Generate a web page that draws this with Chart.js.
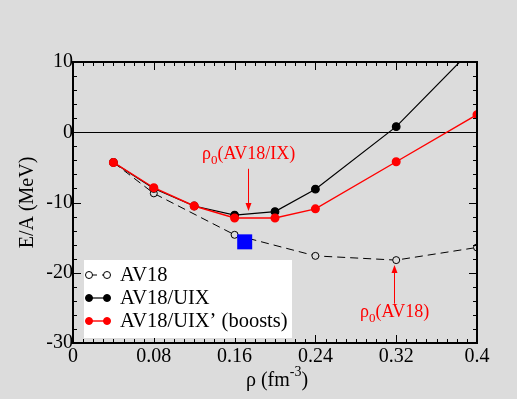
<!DOCTYPE html>
<html>
<head>
<meta charset="utf-8">
<script src="https://cdn.jsdelivr.net/npm/chart.js@4.4.1/dist/chart.umd.min.js"></script>
<style>
body { margin: 0; background: #dcdcdc; }
canvas { display: block; }
</style>
</head>
<body>
<canvas id="eosChart" width="517" height="399"></canvas>
<script>
// density (fm^-3) and energy per nucleon (MeV) for each calculation
var rhoAV18 = [0.04, 0.08, 0.16, 0.24, 0.32, 0.4];
var eAV18 = [-4.3, -8.7, -14.6, -17.6, -18.2, -16.4];
var rhoUIX = [0.04, 0.08, 0.12, 0.16, 0.2, 0.24, 0.32, 0.4];
var eUIX = [-4.3, -8.0, -10.5, -11.8, -11.3, -8.1, 0.8, 12.5];
var rhoBoost = [0.04, 0.08, 0.12, 0.16, 0.2, 0.24, 0.32, 0.4];
var eBoost = [-4.3, -7.9, -10.5, -12.2, -12.2, -10.9, -4.2, 2.5];
// empirical saturation point
var satRho = [0.17];
var satE = [-15.6];
var xTicks = [0, 0.08, 0.16, 0.24, 0.32, 0.4];
var yTicks = [-30, -20, -10, 0, 10];

var serif = "'Liberation Serif', 'DejaVu Serif', serif";
var bg = '#dcdcdc';

function toPoints(xs, ys) {
    return xs.map(function(x, i) { return {x: x, y: ys[i]}; });
}

// draws "ρ0(...)" with a subscript zero
function drawRho(ctx, text, x, y, size) {
    ctx.textAlign = 'left';
    ctx.textBaseline = 'alphabetic';
    ctx.font = size + 'px ' + serif;
    ctx.fillText('ρ', x, y);
    x += ctx.measureText('ρ').width;
    ctx.font = Math.round(size * 0.7) + 'px ' + serif;
    ctx.fillText('0', x, y + 5);
    x += ctx.measureText('0').width;
    ctx.font = size + 'px ' + serif;
    ctx.fillText(text, x, y);
}

function arrow(ctx, x, y1, y2) {
    var dir = y2 > y1 ? 1 : -1;
    ctx.beginPath();
    ctx.moveTo(x, y1);
    ctx.lineTo(x, y2 - dir * 6);
    ctx.stroke();
    ctx.beginPath();
    ctx.moveTo(x, y2);
    ctx.lineTo(x - 3, y2 - dir * 8);
    ctx.lineTo(x + 3, y2 - dir * 8);
    ctx.closePath();
    ctx.fill();
}

// frame and inward ticks, drawn with filled rectangles
function drawFrame(chart) {
    var ctx = chart.ctx, a = chart.chartArea;
    var xs = chart.scales.x, ys = chart.scales.y;
    var L = Math.round(a.left), R = Math.round(a.right);
    var T = Math.round(a.top), B = Math.round(a.bottom);
    ctx.save();
    ctx.fillStyle = '#000000';
    ctx.fillRect(L - 1, T - 1, R - L + 2, 2);
    ctx.fillRect(L - 1, B - 1, R - L + 2, 2);
    ctx.fillRect(L - 1, T - 1, 2, B - T + 2);
    ctx.fillRect(R - 1, T - 1, 2, B - T + 2);
    for (var i = 0; i <= 40; i++) {
        var px = Math.round(xs.getPixelForValue(i / 100));
        var len = i % 8 === 0 ? 8 : 4;
        ctx.fillRect(px, B - len, 1, len);
        ctx.fillRect(px, T, 1, len);
    }
    for (var v = -30; v <= 10; v += 2) {
        var py = Math.round(ys.getPixelForValue(v));
        var l = v % 10 === 0 ? 8 : 4;
        ctx.fillRect(L, py, l, 1);
        ctx.fillRect(R - l, py, l, 1);
    }
    ctx.restore();
}

var decorations = {
    id: 'decorations',
    beforeDraw: function(chart) {
        var ctx = chart.ctx;
        ctx.save();
        ctx.fillStyle = bg;
        ctx.fillRect(0, 0, chart.width, chart.height);
        ctx.restore();
    },
    beforeDatasetsDraw: function(chart) {
        // zero line
        var ctx = chart.ctx, a = chart.chartArea;
        var y0 = Math.round(chart.scales.y.getPixelForValue(0)) + 0.5;
        ctx.save();
        ctx.strokeStyle = '#000';
        ctx.lineWidth = 1.2;
        ctx.beginPath();
        ctx.moveTo(a.left, y0);
        ctx.lineTo(a.right, y0);
        ctx.stroke();
        ctx.restore();
    },
    afterDraw: function(chart) {
        var ctx = chart.ctx, a = chart.chartArea;
        var xs = chart.scales.x, ys = chart.scales.y;
        drawFrame(chart);
        ctx.save();

        // axis titles
        ctx.fillStyle = '#000';
        ctx.font = '20px ' + serif;
        ctx.textBaseline = 'middle';
        ctx.textAlign = 'center';
        ctx.save();
        ctx.translate(28, (a.top + a.bottom) / 2);
        ctx.rotate(-Math.PI / 2);
        ctx.fillText('E/A (MeV)', 0, 0);
        ctx.restore();

        var t1 = 'ρ (fm', t2 = ')';
        ctx.font = '20px ' + serif;
        var w1 = ctx.measureText(t1).width;
        var w2 = ctx.measureText(t2).width;
        ctx.font = '14px ' + serif;
        var ws = ctx.measureText('-3').width;
        var x0 = (a.left + a.right) / 2 + 2 - (w1 + ws + w2) / 2;
        ctx.textAlign = 'left';
        ctx.textBaseline = 'alphabetic';
        ctx.font = '20px ' + serif;
        ctx.fillText(t1, x0, 386);
        ctx.font = '14px ' + serif;
        ctx.fillText('-3', x0 + w1, 376);
        ctx.font = '20px ' + serif;
        ctx.fillText(t2, x0 + w1 + ws, 386);

        // annotations
        ctx.fillStyle = '#ff0000';
        ctx.strokeStyle = '#ff0000';
        ctx.lineWidth = 1;
        drawRho(ctx, '(AV18/IX)', 202, 159, 18);
        var ax1 = Math.round(xs.getPixelForValue(0.173)) + 0.5;
        arrow(ctx, ax1, ys.getPixelForValue(-5.2), ys.getPixelForValue(-11.2));
        drawRho(ctx, '(AV18)', 360, 317, 18);
        var ax2 = Math.round(xs.getPixelForValue(0.318)) + 0.5;
        arrow(ctx, ax2, ys.getPixelForValue(-24.4), ys.getPixelForValue(-18.9));

        // legend box
        ctx.fillStyle = '#fff';
        ctx.fillRect(84, 260, 208, 78);
        var rows = [275, 298, 321];
        var sets = chart.data.datasets.slice(0, 3);
        sets.forEach(function(ds, k) {
            var y = rows[k];
            ctx.strokeStyle = ds.borderColor;
            ctx.lineWidth = ds.borderWidth;
            ctx.setLineDash(ds.borderDash || []);
            ctx.beginPath();
            ctx.moveTo(89, y);
            ctx.lineTo(107, y);
            ctx.stroke();
            ctx.setLineDash([]);
            [89, 107].forEach(function(cx) {
                ctx.beginPath();
                ctx.arc(cx, y, 3.5, 0, Math.PI * 2);
                ctx.fillStyle = ds.hollow ? '#fff' : ds.pointBackgroundColor;
                ctx.fill();
                ctx.strokeStyle = ds.pointBorderColor;
                ctx.lineWidth = 1;
                ctx.stroke();
            });
            ctx.fillStyle = '#000';
            ctx.font = '20.5px ' + serif;
            ctx.textAlign = 'left';
            ctx.textBaseline = 'middle';
            ctx.fillText(ds.label, 120, y + 1);
        });
        ctx.restore();
    }
};

var ctx = document.getElementById('eosChart').getContext('2d');
var chart = new Chart(ctx, {
    type: 'line',
    data: {
        datasets: [
            {
                label: 'AV18',
                data: toPoints(rhoAV18, eAV18),
                borderColor: '#000',
                borderWidth: 1,
                borderDash: [8, 5],
                pointRadius: 3.5,
                pointBackgroundColor: bg,
                pointBorderColor: '#000',
                pointBorderWidth: 1,
                hollow: true,
                order: 3
            },
            {
                label: 'AV18/UIX',
                data: toPoints(rhoUIX, eUIX),
                borderColor: '#000',
                borderWidth: 1.2,
                pointRadius: 3.8,
                pointBackgroundColor: '#000',
                pointBorderColor: '#000',
                order: 2
            },
            {
                label: 'AV18/UIX\u2019 (boosts)',
                data: toPoints(rhoBoost, eBoost),
                borderColor: '#ff0000',
                borderWidth: 1.4,
                pointRadius: 3.8,
                pointBackgroundColor: '#ff0000',
                pointBorderColor: '#ff0000',
                order: 1
            },
            {
                label: 'empirical',
                data: toPoints(satRho, satE),
                showLine: false,
                pointStyle: 'rect',
                pointRadius: 10.6,
                pointBackgroundColor: '#0000ff',
                pointBorderColor: '#0000ff',
                pointBorderWidth: 0,
                order: 0
            }
        ]
    },
    options: {
        responsive: false,
        animation: false,
        events: [],
        layout: { padding: { top: 62, right: 40, left: 0, bottom: 0 } },
        plugins: {
            legend: { display: false },
            tooltip: { enabled: false }
        },
        scales: {
            x: {
                type: 'linear',
                min: 0,
                max: 0.4,
                afterBuildTicks: function(scale) {
                    scale.ticks = xTicks.map(function(v) { return {value: v}; });
                },
                afterFit: function(scale) { scale.height = 56; },
                grid: { display: false, drawTicks: false },
                border: { display: false },
                ticks: {
                    padding: 2,
                    color: '#000',
                    maxRotation: 0,
                    font: { family: serif, size: 20 },
                    callback: function(v) { return String(+v.toFixed(2)); }
                }
            },
            y: {
                type: 'linear',
                min: -30,
                max: 10,
                afterBuildTicks: function(scale) {
                    scale.ticks = yTicks.map(function(v) { return {value: v}; });
                },
                afterFit: function(scale) { scale.width = 73; },
                grid: { display: false, drawTicks: false },
                border: { display: false },
                ticks: {
                    padding: 0,
                    color: '#000',
                    font: { family: serif, size: 20 },
                    callback: function(v) { return String(v); }
                }
            }
        }
    },
    plugins: [decorations]
});
</script>
</body>
</html>
